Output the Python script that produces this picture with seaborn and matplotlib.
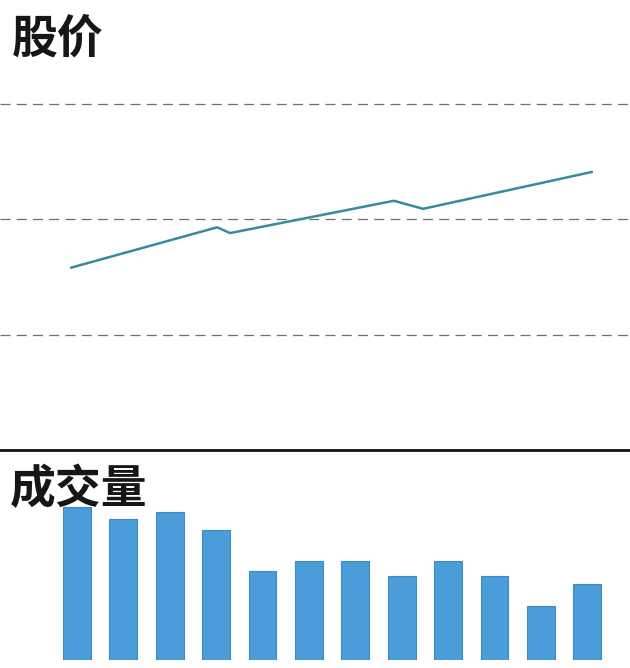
import matplotlib
matplotlib.use('Agg')
import matplotlib.pyplot as plt
import seaborn as sns
import pandas as pd

# ── Data ──────────────────────────────────────────────────────────────────────
price_x = [-0.13, 3.02, 3.30, 6.83, 7.46, 11.10]
price_y = [15.8, 19.3, 18.8, 21.6, 20.9, 24.1]

periods = [str(i + 1) for i in range(12)]
volume = [100, 92, 97, 85, 58, 65, 65, 55, 65, 55, 35, 50]

price_ticks = [10, 20, 30]

LINE_COLOR = '#3a899f'
BAR_COLOR = '#4a9dd8'
BAR_EDGE = '#4088c0'
TEXT_COLOR = '#161616'

sns.set_theme(style='white')
plt.rcParams['font.family'] = ['Noto Sans CJK SC', 'DejaVu Sans']

fig = plt.figure(figsize=(6.30, 6.68), dpi=100)
fig.patch.set_facecolor('white')

XLIM = (-1.66, 11.92)

# ── Top panel: price line ─────────────────────────────────────────────────────
ax1 = fig.add_axes([0, 1 - 450 / 668, 1, 450 / 668])
df_price = pd.DataFrame({'x': price_x, 'price': price_y})
sns.lineplot(data=df_price, x='x', y='price', ax=ax1, color=LINE_COLOR,
             linewidth=1.8, sort=False)
ax1.set_xlim(*XLIM)
ax1.set_ylim(0, 39)
for t in price_ticks:
    ax1.axhline(t, color='#6f6f6f', linewidth=0.9, linestyle=(0, (8, 5)), zorder=0)
ax1.set_xticks([])
ax1.set_yticks([])
ax1.set_xlabel('')
ax1.set_ylabel('')
for side in ['top', 'left', 'right']:
    ax1.spines[side].set_visible(False)
ax1.spines['bottom'].set_color('#111111')
ax1.spines['bottom'].set_linewidth(2)

# ── Bottom panel: volume bars ─────────────────────────────────────────────────
ax2 = fig.add_axes([0, 8 / 668, 1, 208 / 668])
df_vol = pd.DataFrame({'period': periods, 'volume': volume})
sns.barplot(data=df_vol, x='period', y='volume', ax=ax2, color=BAR_COLOR,
            edgecolor=BAR_EDGE, linewidth=0.8, width=0.6, saturation=1)
ax2.set_xlim(*XLIM)
ax2.set_ylim(0, 136)
ax2.set_xticks([])
ax2.set_yticks([])
ax2.set_xlabel('')
ax2.set_ylabel('')
for side in ['top', 'left', 'right', 'bottom']:
    ax2.spines[side].set_visible(False)

# ── Panel titles ──────────────────────────────────────────────────────────────
fig.text(12 / 630, 1 - 40 / 668, '股价', fontsize=33, fontweight='bold',
         color=TEXT_COLOR, va='center', ha='left')
fig.text(10 / 630, 1 - 490 / 668, '成交量', fontsize=33, fontweight='bold',
         color=TEXT_COLOR, va='center', ha='left')

fig.savefig('out.png', dpi=100, facecolor='white')
